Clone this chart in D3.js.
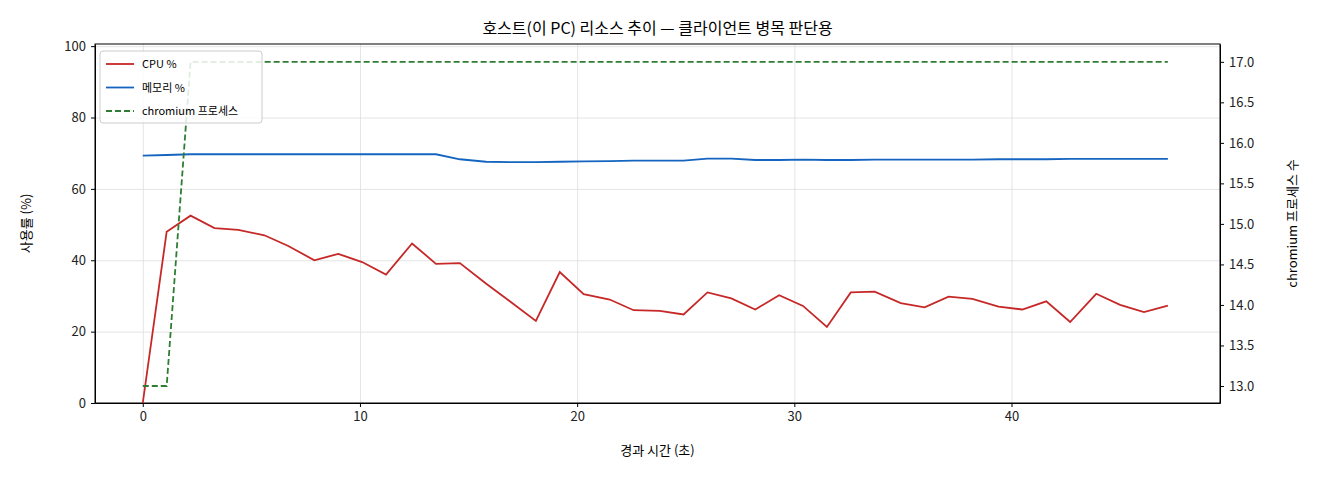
<!DOCTYPE html>
<html><head><meta charset="utf-8">
<script src="https://cdn.jsdelivr.net/npm/d3@7"></script>
<style>
body{margin:0;background:#fff;font-family:"Noto Sans CJK KR","DejaVu Sans",sans-serif;}
.axis text{font-size:13px;fill:#222;font-family:"Noto Sans CJK KR","DejaVu Sans",sans-serif;}
.grid line{stroke:#ddd;stroke-width:0.8;}
.grid path{display:none;}
</style></head><body>
<svg id="chart" width="1320" height="480"></svg>
<script>
// elapsed seconds for each sample
let times = [0, 1.1, 2.2, 3.3, 4.4, 5.6, 6.7, 7.9, 9.0, 10.1, 11.2, 12.4, 13.5, 14.6, 15.8, 16.9, 18.1, 19.2, 20.3, 21.5, 22.6, 23.8, 24.9, 26.0, 27.1, 28.2, 29.3, 30.4, 31.5, 32.6, 33.7, 34.9, 36.0, 37.1, 38.2, 39.4, 40.5, 41.6, 42.7, 43.9, 45.0, 46.1, 47.2];
let cpu = [0, 48, 52.5, 49, 48.5, 47, 44, 40, 41.8, 39.5, 36, 44.7, 39, 39.2, 33.5, 28.5, 23, 36.7, 30.5, 29, 26, 25.8, 24.8, 31, 29.3, 26.2, 30.2, 27.2, 21.3, 31, 31.2, 28, 26.8, 29.8, 29.2, 27, 26.2, 28.5, 22.7, 30.6, 27.5, 25.5, 27.3];
let mem = [69.3, 69.5, 69.7, 69.7, 69.7, 69.7, 69.7, 69.7, 69.7, 69.7, 69.7, 69.7, 69.7, 68.3, 67.6, 67.5, 67.5, 67.6, 67.7, 67.8, 67.9, 67.9, 67.9, 68.5, 68.5, 68.1, 68.1, 68.2, 68.1, 68.1, 68.2, 68.2, 68.2, 68.2, 68.2, 68.3, 68.3, 68.3, 68.4, 68.4, 68.4, 68.4, 68.4];
let procs = [13, 13, 17, 17, 17, 17, 17, 17, 17, 17, 17, 17, 17, 17, 17, 17, 17, 17, 17, 17, 17, 17, 17, 17, 17, 17, 17, 17, 17, 17, 17, 17, 17, 17, 17, 17, 17, 17, 17, 17, 17, 17, 17];
let xTicks = [0, 10, 20, 30, 40];
let yTicks = [0, 20, 40, 60, 80, 100];
let y2Ticks = [13, 13.5, 14, 14.5, 15, 15.5, 16, 16.5, 17];

let margin = {left: 95, right: 100, top: 44, bottom: 77};
let w = 1320 - margin.left - margin.right;
let h = 480 - margin.top - margin.bottom;
let font = '"Noto Sans CJK KR","DejaVu Sans",sans-serif';

let svg = d3.select("#chart").append("g")
    .attr("transform", "translate(" + margin.left + "," + margin.top + ")");

let xScale = d3.scaleLinear().domain([-2.2, 49.6]).range([0, w]);
let yScale = d3.scaleLinear().domain([0, 100.6]).range([h, 0]);
let y2Scale = d3.scaleLinear().domain([12.79, 17.22]).range([h, 0]);

// grid
svg.append("g").attr("class", "grid")
    .call(d3.axisBottom(xScale).tickValues(xTicks).tickFormat("").tickSize(h));
svg.append("g").attr("class", "grid")
    .call(d3.axisRight(yScale).tickValues(yTicks).tickFormat("").tickSize(w));

// axes
svg.append("g").attr("class", "axis").attr("transform", "translate(0," + h + ")")
    .call(d3.axisBottom(xScale).tickValues(xTicks).tickSize(4).tickSizeOuter(0).tickPadding(5));
svg.append("g").attr("class", "axis")
    .call(d3.axisLeft(yScale).tickValues(yTicks).tickSize(4).tickSizeOuter(0).tickPadding(5));
svg.append("g").attr("class", "axis").attr("transform", "translate(" + w + ",0)")
    .call(d3.axisRight(y2Scale).tickValues(y2Ticks).tickFormat(d3.format(".1f")).tickSize(4).tickSizeOuter(0).tickPadding(5));
svg.append("rect").attr("width", w).attr("height", h)
    .attr("fill", "none").attr("stroke", "#000").attr("stroke-width", 1);

// lines
let line = (ys, s) => d3.line().x((d, i) => xScale(times[i])).y(d => s(d))(ys);
svg.append("path").attr("d", line(mem, yScale)).attr("fill", "none").attr("stroke", "#1565c0").attr("stroke-width", 1.8);
svg.append("path").attr("d", line(cpu, yScale)).attr("fill", "none").attr("stroke", "#c62828").attr("stroke-width", 1.8);
svg.append("path").attr("d", line(procs, y2Scale)).attr("fill", "none").attr("stroke", "#2e7d32").attr("stroke-width", 1.8).attr("stroke-dasharray", "6,3");

// titles
svg.append("text").attr("x", w / 2).attr("y", -10).attr("text-anchor", "middle")
    .style("font", "16px " + font).text("호스트(이 PC) 리소스 추이 — 클라이언트 병목 판단용");
svg.append("text").attr("x", w / 2).attr("y", h + 52).attr("text-anchor", "middle")
    .style("font", "13px " + font).text("경과 시간 (초)");
svg.append("text").attr("transform", "translate(-64," + h / 2 + ") rotate(-90)").attr("text-anchor", "middle")
    .style("font", "13px " + font).text("사용률 (%)");
svg.append("text").attr("transform", "translate(" + (w + 77) + "," + h / 2 + ") rotate(-90)").attr("text-anchor", "middle")
    .style("font", "13px " + font).text("chromium 프로세스 수");

// legend
let legend = [
    {name: "CPU %", color: "#c62828", dash: null},
    {name: "메모리 %", color: "#1565c0", dash: null},
    {name: "chromium 프로세스", color: "#2e7d32", dash: "6,3"}
];
let lg = svg.append("g").attr("transform", "translate(5,7)");
lg.append("rect").attr("width", 162).attr("height", 72).attr("rx", 3)
    .attr("fill", "#fff").attr("fill-opacity", 0.85).attr("stroke", "#ccc");
legend.forEach((d, i) => {
    let y = 13 + i * 23.5;
    lg.append("line").attr("x1", 6).attr("x2", 34).attr("y1", y).attr("y2", y)
        .attr("stroke", d.color).attr("stroke-width", 1.8).attr("stroke-dasharray", d.dash);
    lg.append("text").attr("x", 42).attr("y", y + 4).style("font", "11px " + font).text(d.name);
});
</script>
</body></html>
